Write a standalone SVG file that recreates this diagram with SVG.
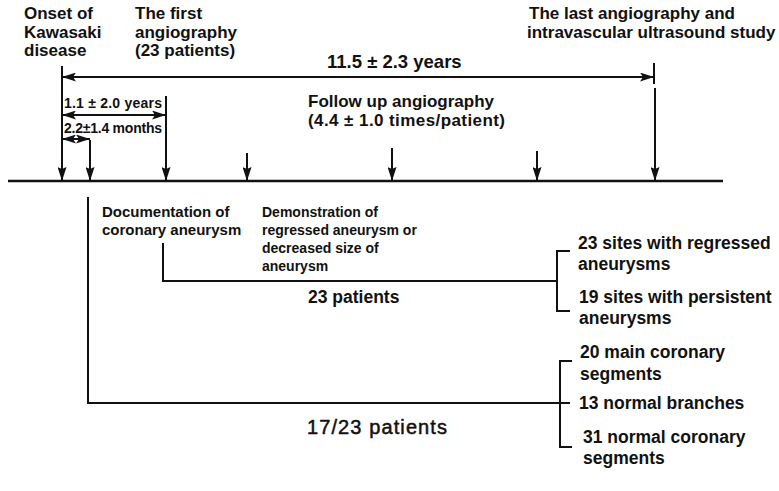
<svg xmlns="http://www.w3.org/2000/svg" width="779" height="491" viewBox="0 0 779 491">
<defs>
<style>
.t{font-family:"Liberation Sans",Arial,Helvetica,sans-serif;font-weight:bold;fill:#111}
.s17{font-size:17px}
.s18{font-size:17.5px}
.s185{font-size:18.5px}
.s15{font-size:15px}
.s14{font-size:14px}
.reg{font-weight:normal;font-size:20px;stroke:#111;stroke-width:0.5}
.ln{stroke:#111;stroke-width:2;fill:none}
.bl{stroke:#111;stroke-width:2.5;fill:none}
</style>
<marker id="ah" markerUnits="userSpaceOnUse" markerWidth="14" markerHeight="9" refX="14" refY="4.5" orient="auto-start-reverse">
<path d="M0,0 L14,4.5 L0,9 L3,4.5 z" fill="#111"/>
</marker>
<marker id="ad" markerUnits="userSpaceOnUse" markerWidth="14" markerHeight="9" refX="14" refY="4.5" orient="auto">
<path d="M0,0 L14,4.5 L0,9 L2,4.5 z" fill="#111"/>
</marker>
</defs>
<rect width="779" height="491" fill="#fff"/>

<g id="connectors">
<line class="bl" x1="8" y1="181" x2="723" y2="181"/>
<line class="ln" x1="62" y1="66" x2="62" y2="181" marker-end="url(#ad)"/>
<line class="ln" x1="90" y1="140" x2="90" y2="181" marker-end="url(#ad)"/>
<line class="ln" x1="166" y1="96" x2="166" y2="181" marker-end="url(#ad)"/>
<line class="ln" x1="247" y1="153" x2="247" y2="181" marker-end="url(#ad)"/>
<line class="ln" x1="392" y1="148" x2="392" y2="181" marker-end="url(#ad)"/>
<line class="ln" x1="537" y1="151" x2="537" y2="181" marker-end="url(#ad)"/>
<line class="ln" x1="655" y1="88" x2="655" y2="181" marker-end="url(#ad)"/>
<line class="ln" x1="654" y1="63" x2="654" y2="84"/>
<line class="ln" x1="62" y1="77" x2="654" y2="77" marker-start="url(#ah)" marker-end="url(#ah)"/>
<line class="ln" x1="62" y1="115" x2="166" y2="115" marker-start="url(#ah)" marker-end="url(#ah)"/>
<line class="ln" x1="62" y1="139" x2="90" y2="139" marker-start="url(#ah)" marker-end="url(#ah)"/>
<polyline class="ln" points="163,243 163,281 557,281"/>
<polyline class="ln" points="570,251 557,251 557,311 570,311"/>
<polyline class="ln" points="88,197 88,403 570,403"/>
<polyline class="ln" points="572,361 560,361 560,447 572,447"/>
</g>

<g id="onset"><text class="t s17" x="24" y="19">Onset of</text><text class="t s17" x="24" y="38">Kawasaki</text><text class="t s17" x="24" y="56">disease</text></g>
<g id="first"><text class="t s17" x="135" y="19">The first</text><text class="t s17" x="135" y="38">angiography</text><text class="t s17" x="135" y="56">(23 patients)</text></g>
<g id="last"><text class="t s17" x="529" y="19">The last angiography and</text><text class="t s17" x="527" y="38">intravascular ultrasound study</text></g>
<g id="total"><text class="t s185" x="327" y="68">11.5 ± 2.3 years</text></g>
<g id="follow"><text class="t s17" x="308" y="107">Follow up angiography</text><text class="t s17" x="308" y="126" textLength="197">(4.4 ± 1.0 times/patient)</text></g>
<g id="years"><text class="t s14" x="64" y="108" textLength="98">1.1 ± 2.0  years</text></g>
<g id="months"><text class="t s14" x="64" y="133" textLength="98">2.2±1.4 months</text></g>
<g id="documentation"><text class="t s15" x="102" y="217">Documentation of</text><text class="t s15" x="102" y="235">coronary aneurysm</text></g>
<g id="demonstration"><text class="t s14" x="262" y="217">Demonstration of</text><text class="t s14" x="262" y="235">regressed aneurysm or</text><text class="t s14" x="262" y="253">decreased size of</text><text class="t s14" x="262" y="271">aneurysm</text></g>
<g id="p23"><text class="t s18" x="308" y="303">23 patients</text></g>
<g id="regressed"><text class="t s18" x="578" y="249">23 sites with regressed</text><text class="t s18" x="578" y="270">aneurysms</text></g>
<g id="persistent"><text class="t s18" x="579" y="303">19 sites with persistent</text><text class="t s18" x="579" y="324">aneurysms</text></g>
<g id="p1723"><text class="t reg" x="307" y="434" textLength="140">17/23 patients</text></g>
<g id="main"><text class="t s18" x="580" y="358">20 main coronary</text><text class="t s18" x="580" y="380">segments</text></g>
<g id="branches"><text class="t s18" x="579" y="409">13 normal branches</text></g>
<g id="normal"><text class="t s18" x="583" y="443">31 normal coronary</text><text class="t s18" x="583" y="464">segments</text></g>
</svg>
